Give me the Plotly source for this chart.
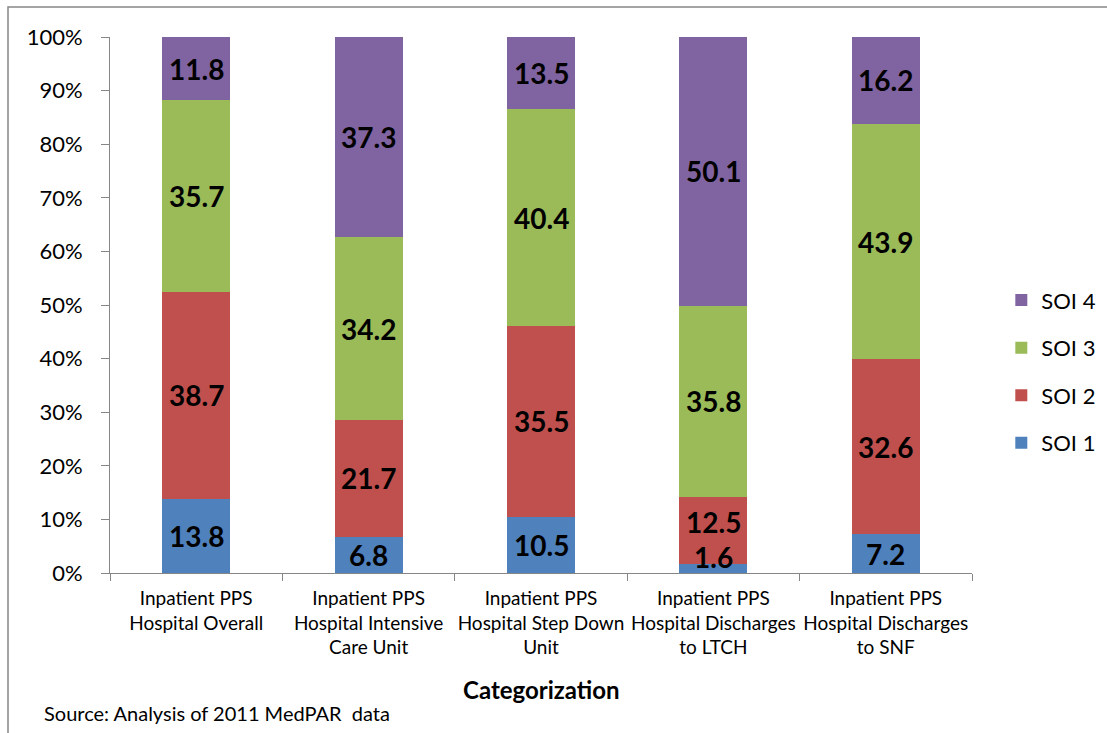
import plotly.graph_objects as go

categories = [
    "Inpatient PPS<br>Hospital Overall",
    "Inpatient PPS<br>Hospital Intensive<br>Care Unit",
    "Inpatient PPS<br>Hospital Step Down<br>Unit",
    "Inpatient PPS<br>Hospital Discharges<br>to LTCH",
    "Inpatient PPS<br>Hospital Discharges<br>to SNF",
]
series_names = ["SOI 1", "SOI 2", "SOI 3", "SOI 4"]
soi1 = [13.8, 6.8, 10.5, 1.6, 7.2]
soi2 = [38.7, 21.7, 35.5, 12.5, 32.6]
soi3 = [35.7, 34.2, 40.4, 35.8, 43.9]
soi4 = [11.8, 37.3, 13.5, 50.1, 16.2]
colors = ["#4F81BD", "#C0504D", "#9BBB59", "#8064A2"]
y_ticks = [0, 10, 20, 30, 40, 50, 60, 70, 80, 90, 100]
y_tick_labels = ["0%", "10%", "20%", "30%", "40%", "50%", "60%", "70%", "80%", "90%", "100%"]

FONT = "Lato"
series = [soi1, soi2, soi3, soi4]

fig = go.Figure()
for k, (name, vals, col) in enumerate(zip(series_names, series, colors)):
    fig.add_trace(go.Bar(
        x=categories, y=vals, name=name, marker_color=col,
        marker_line_width=0, legendgroup=name, legendrank=len(series) - k,
    ))

# data labels centered in each normalized segment, kept inside the plot and apart
annotations = []
MIN_Y = 3.0
MIN_SEP = 6.5
for i, cat in enumerate(categories):
    total = sum(s[i] for s in series)
    base = 0.0
    prev = None
    for s in series:
        v = s[i] / total * 100
        mid = max(base + v / 2, MIN_Y)
        if prev is not None:
            mid = max(mid, prev + MIN_SEP) if mid - prev < MIN_SEP and (base + v / 2) < prev + MIN_SEP else mid
        annotations.append(dict(x=cat, y=mid, yanchor="middle", text="<b>%.1f</b>" % s[i],
                                showarrow=False, font=dict(family=FONT, size=28, color="black")))
        prev = mid
        base += v

annotations.append(dict(xref="paper", yref="paper", x=0.5, y=(573 - 690) / 536, yanchor="middle",
                        text="<b>Categorization</b>", showarrow=False,
                        font=dict(family=FONT, size=24, color="black")))
annotations.append(dict(xref="paper", yref="paper", x=(42 - 110) / 862, y=(573 - 713) / 536,
                        xanchor="left", yanchor="middle",
                        text="Source: Analysis of 2011 MedPAR  data", showarrow=False,
                        font=dict(family=FONT, size=20, color="black")))

fig.update_layout(
    width=1107, height=733,
    margin=dict(l=110, r=135, t=37, b=160, autoexpand=False),
    barmode="stack", barnorm="percent", bargap=0.605,
    plot_bgcolor="white", paper_bgcolor="white",
    font=dict(family=FONT, color="black"),
    showlegend=True,
    legend=dict(traceorder="grouped", x=1.034, xanchor="left", y=0.548, yanchor="top",
                font=dict(family=FONT, size=22, color="black"), tracegroupgap=16,
                itemwidth=30, bgcolor="rgba(0,0,0,0)"),
    annotations=annotations,
    shapes=[dict(type="rect", xref="paper", yref="paper",
                 x0=(8 - 110) / 862, x1=(1130 - 110) / 862,
                 y0=(573 - 760) / 536, y1=(573 - 7) / 536,
                 line=dict(color="#868686", width=1.5), fillcolor="rgba(0,0,0,0)", layer="below")],
)
fig.update_yaxes(range=[0, 100], tickvals=y_ticks, ticktext=y_tick_labels, showgrid=False,
                 showline=True, linecolor="#868686", linewidth=1,
                 ticks="outside", ticklen=8, tickcolor="#868686",
                 tickfont=dict(family=FONT, size=22, color="black"), ticklabelstandoff=14,
                 zeroline=False)
fig.update_xaxes(showgrid=False, showline=True, linecolor="#868686", linewidth=1,
                 ticks="outside", ticklen=7, tickcolor="#868686", tickson="boundaries",
                 tickangle=0,
                 tickfont=dict(family=FONT, size=19, color="black"), ticklabelstandoff=8)

fig.write_html("out.html")
